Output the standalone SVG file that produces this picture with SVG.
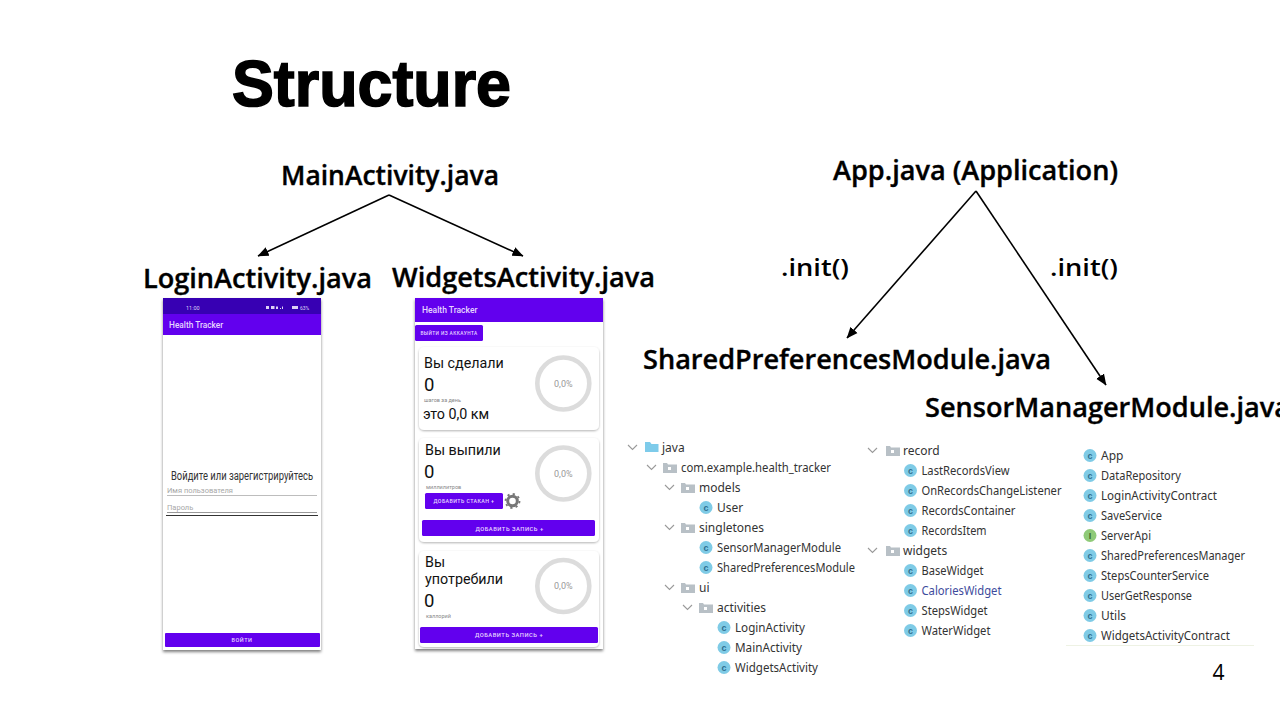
<svg xmlns="http://www.w3.org/2000/svg" width="1280" height="720" viewBox="0 0 1280 720">
<style>
text{font-family:"Noto Sans","Open Sans",sans-serif;fill:#000}
.title{font-family:"Liberation Sans",Arial,sans-serif;font-weight:700;font-size:64px;stroke:#000;stroke-width:1.6px}
.lbl{font-family:"Open Sans",sans-serif;font-weight:600;font-size:26.5px;stroke:#000;stroke-width:.35px}
.init{font-family:"Open Sans",sans-serif;font-weight:600;font-size:24px}
.conn{fill:none;stroke:#000;stroke-width:1.6;marker-end:url(#arr)}
.r{font-family:Roboto,sans-serif}
.t{font-size:12px;fill:#333}
.w{fill:#e6d6ff;font-weight:500;font-family:Roboto,sans-serif}
.purple{fill:#6200ee}
.hint{font-size:7.5px;fill:#a8a8a8;font-family:Roboto,sans-serif}
.big{font-size:14.3px;fill:#111;font-family:Roboto,sans-serif}
.num{font-size:18.5px;fill:#111;font-family:Roboto,sans-serif}
.sm{font-size:5.5px;fill:#888;font-family:Roboto,sans-serif}
.pct{font-size:9px;fill:#999;font-family:Roboto,sans-serif;text-anchor:middle}
.ring{fill:none;stroke:#dcdcdc;stroke-width:4.6}
.card{fill:#fff;filter:url(#sh)}
.chev{fill:none;stroke:#9a9a9a;stroke-width:1.1}
.ci{fill:#7fcbe6}
.cl{font-size:9px;fill:#2f6f8f;font-weight:700;text-anchor:middle;font-family:"Liberation Sans",sans-serif}
.fold{fill:#b8c0c6}
.st{fill:#dcd2f5}
</style>
<defs>
<marker id="arr" viewBox="0 0 10 10" refX="9.5" refY="5" markerWidth="7" markerHeight="7" orient="auto"><path d="M0 0.8L10 5L0 9.2z" fill="#000"/></marker>
<filter id="sh" x="-10%" y="-10%" width="120%" height="125%"><feDropShadow dx="0" dy="1" stdDeviation="1.3" flood-color="#000" flood-opacity=".3"/></filter>
<filter id="sh2" x="-10%" y="-5%" width="120%" height="110%"><feDropShadow dx="0" dy="2" stdDeviation="1.6" flood-color="#000" flood-opacity=".5"/></filter>
<g id="cic"><circle r="6.5" class="ci"/><text class="cl" y="3">c</text></g>
<g id="fd"><path d="M0 0h4l1 1.500h9v8.500h-14z"/><rect x="5" y="4" width="3" height="3" fill="#fff"/></g>
</defs>
<rect width="1280" height="720" fill="#fff"/>
<text class="title" x="232" y="106" textLength="279" lengthAdjust="spacingAndGlyphs">Structure</text>

<g id="connectors">
<path class="conn" d="M389 195L258 256"/>
<path class="conn" d="M389 195L523 256"/>
<path class="conn" d="M976 191L847 338"/>
<path class="conn" d="M976 191L1106 385"/>
</g>

<g id="n-main"><text class="lbl" x="281" y="184.500" textLength="218" lengthAdjust="spacingAndGlyphs">MainActivity.java</text></g>
<g id="n-login"><text class="lbl" x="143" y="287.500" textLength="229" lengthAdjust="spacingAndGlyphs">LoginActivity.java</text></g>
<g id="n-widgets"><text class="lbl" x="392" y="286.500" textLength="263" lengthAdjust="spacingAndGlyphs">WidgetsActivity.java</text></g>
<g id="n-app"><text class="lbl" x="833" y="179.500" textLength="285" lengthAdjust="spacingAndGlyphs">App.java (Application)</text></g>
<g id="n-init1"><text class="init" x="781" y="276" textLength="68" lengthAdjust="spacingAndGlyphs">.init()</text></g>
<g id="n-init2"><text class="init" x="1050" y="276" textLength="68" lengthAdjust="spacingAndGlyphs">.init()</text></g>
<g id="n-shared"><text class="lbl" x="643" y="368.500" textLength="408" lengthAdjust="spacingAndGlyphs">SharedPreferencesModule.java</text></g>
<g id="n-sensor"><text class="lbl" x="925" y="416.500" textLength="365" lengthAdjust="spacingAndGlyphs">SensorManagerModule.java</text></g>

<g id="login-screen">
<rect x="163" y="298" width="158" height="352" fill="#fff" filter="url(#sh2)"/>
<rect x="163" y="298" width="158" height="16" fill="#3700b3"/>
<rect x="163" y="314" width="158" height="21" class="purple"/>
<text class="r st" x="186" y="310" font-size="5.500" style="fill:#dcd2f5">11:00</text>
<path class="st" d="M266 306h3v3h-3zM271 306h3.500v3h-3.500zM276 306.500h2v2.500h-2zM280 308h1v1h-1zM282 306.500h1v2.500h-1zM292 306h6v3h-6z"/>
<text class="r" x="300" y="310" font-size="5" style="fill:#dcd2f5">63%</text>
<text class="w" x="169" y="328" font-size="8.300">Health Tracker</text>
<text class="r t" x="171" y="480" textLength="142" lengthAdjust="spacingAndGlyphs">Войдите или зарегистрируйтесь</text>
<text class="hint" x="167" y="493">Имя пользователя</text>
<rect x="167" y="495" width="150" height="1" fill="#bdbdbd"/>
<text class="hint" x="167" y="510">Пароль</text>
<rect x="167" y="512" width="150" height="1" fill="#999"/>
<rect x="166" y="515" width="152" height="1" fill="#333"/>
<rect x="165" y="633" width="155" height="14" rx="1" class="purple"/>
<text class="w" x="242" y="641.500" font-size="5.500" text-anchor="middle" letter-spacing=".5">ВОЙТИ</text>
</g>

<g id="widgets-screen">
<rect x="415" y="298" width="188" height="351" fill="#fff" filter="url(#sh2)"/>
<rect x="415" y="298" width="188" height="24" class="purple"/>
<text class="w" x="422" y="313" font-size="8.500">Health Tracker</text>
<rect x="415" y="325" width="68" height="16" rx="1.500" class="purple"/>
<text class="w" x="449" y="335" font-size="4.800" text-anchor="middle" letter-spacing=".4">ВЫЙТИ ИЗ АККАУНТА</text>

<rect x="419" y="347" width="180" height="83" rx="5" class="card"/>
<text class="big" x="424" y="368">Вы сделали</text>
<text class="num" x="424" y="391">0</text>
<text class="sm" x="424" y="402">шагов за день</text>
<text class="big" x="423" y="419">это 0,0 км</text>
<circle class="ring" cx="563.300" cy="383.500" r="26"/>
<text class="pct" x="563.300" y="386.500">0,0%</text>

<rect x="419" y="438" width="180" height="104" rx="5" class="card"/>
<text class="big" x="425" y="455">Вы выпили</text>
<text class="num" x="424" y="478">0</text>
<text class="sm" x="426" y="489">миллилитров</text>
<rect x="425" y="493" width="78" height="16" rx="1.500" class="purple"/>
<text class="w" x="464" y="503" font-size="5.300" text-anchor="middle" letter-spacing=".4">ДОБАВИТЬ СТАКАН +</text>
<g id="gear" transform="translate(512.500 501)"><circle r="4.800" fill="none" stroke="#777" stroke-width="3"/><circle r="7" fill="none" stroke="#777" stroke-width="1.800" stroke-dasharray="2.200 3.300"/></g>
<rect x="422" y="520" width="173" height="16" rx="1.500" class="purple"/>
<text class="w" x="509.500" y="530.500" font-size="5.800" text-anchor="middle" letter-spacing=".5">ДОБАВИТЬ ЗАПИСЬ +</text>
<circle class="ring" cx="563.300" cy="473.500" r="26"/>
<text class="pct" x="563.300" y="476.500">0,0%</text>

<rect x="419" y="551" width="180" height="96" rx="5" class="card"/>
<text class="big" x="425" y="567">Вы</text>
<text class="big" x="425" y="584">употребили</text>
<text class="num" x="424" y="607">0</text>
<text class="sm" x="426" y="618">каллорий</text>
<rect x="420" y="627" width="178" height="16" rx="1.500" class="purple"/>
<text class="w" x="509" y="637" font-size="5.800" text-anchor="middle" letter-spacing=".5">ДОБАВИТЬ ЗАПИСЬ +</text>
<circle class="ring" cx="563.300" cy="586" r="26"/>
<text class="pct" x="563.300" y="589">0,0%</text>
</g>

<g id="tree-1">
<path class="chev" d="M628 445l4.500 4.500 4.500-4.500M647 465l4.500 4.500 4.500-4.500M665 485l4.500 4.500 4.500-4.500M665 525l4.500 4.500 4.500-4.500M665 585l4.500 4.500 4.500-4.500M683 605l4.500 4.500 4.500-4.500"/>
<path d="M645 442h5l1.500 2h7v8h-13.500z" fill="#7ecbea"/>
<use href="#fd" x="663" y="463" class="fold"/>
<use href="#fd" x="681" y="483" class="fold"/>
<use href="#fd" x="681" y="523" class="fold"/>
<use href="#fd" x="681" y="583" class="fold"/>
<use href="#fd" x="699" y="603" class="fold"/>
<text class="t" x="662" y="452">java</text>
<text class="t" x="681" y="472" textLength="150" lengthAdjust="spacingAndGlyphs">com.example.health_tracker</text>
<text class="t" x="699" y="492">models</text>
<use href="#cic" x="706" y="507.500"/><text class="t" x="717" y="512">User</text>
<text class="t" x="699" y="532">singletones</text>
<use href="#cic" x="706" y="547.500"/><text class="t" x="717" y="552" textLength="124" lengthAdjust="spacingAndGlyphs">SensorManagerModule</text>
<use href="#cic" x="706" y="567.500"/><text class="t" x="717" y="572" textLength="138" lengthAdjust="spacingAndGlyphs">SharedPreferencesModule</text>
<text class="t" x="699" y="592">ui</text>
<text class="t" x="717" y="612">activities</text>
<use href="#cic" x="724" y="627.500"/><text class="t" x="735" y="632" textLength="70" lengthAdjust="spacingAndGlyphs">LoginActivity</text>
<use href="#cic" x="724" y="647.500"/><text class="t" x="735" y="652" textLength="67" lengthAdjust="spacingAndGlyphs">MainActivity</text>
<use href="#cic" x="724" y="667.500"/><text class="t" x="735" y="672" textLength="83" lengthAdjust="spacingAndGlyphs">WidgetsActivity</text>
</g>

<g id="tree-2">
<path class="chev" d="M868 448l4.500 4.500 4.500-4.500M868 548l4.500 4.500 4.500-4.500"/>
<use href="#fd" x="886" y="446" class="fold"/>
<use href="#fd" x="886" y="546" class="fold"/>
<text class="t" x="903" y="455">record</text>
<use href="#cic" x="910.500" y="470.500"/><text class="t" x="921.500" y="475" textLength="88" lengthAdjust="spacingAndGlyphs">LastRecordsView</text>
<use href="#cic" x="910.500" y="490.500"/><text class="t" x="921.500" y="495" textLength="140" lengthAdjust="spacingAndGlyphs">OnRecordsChangeListener</text>
<use href="#cic" x="910.500" y="510.500"/><text class="t" x="921.500" y="515" textLength="94" lengthAdjust="spacingAndGlyphs">RecordsContainer</text>
<use href="#cic" x="910.500" y="530.500"/><text class="t" x="921.500" y="535" textLength="65" lengthAdjust="spacingAndGlyphs">RecordsItem</text>
<text class="t" x="903" y="555">widgets</text>
<use href="#cic" x="910.500" y="570.500"/><text class="t" x="921.500" y="575" textLength="62" lengthAdjust="spacingAndGlyphs">BaseWidget</text>
<use href="#cic" x="910.500" y="590.500"/><text class="t" x="921.500" y="595" textLength="80" lengthAdjust="spacingAndGlyphs" style="fill:#3d4b9c">CaloriesWidget</text>
<use href="#cic" x="910.500" y="610.500"/><text class="t" x="921.500" y="615" textLength="66" lengthAdjust="spacingAndGlyphs">StepsWidget</text>
<use href="#cic" x="910.500" y="630.500"/><text class="t" x="921.500" y="635" textLength="69" lengthAdjust="spacingAndGlyphs">WaterWidget</text>
</g>

<g id="tree-3">
<use href="#cic" x="1090" y="455.500"/><text class="t" x="1101" y="460">App</text>
<use href="#cic" x="1090" y="475.500"/><text class="t" x="1101" y="480" textLength="80" lengthAdjust="spacingAndGlyphs">DataRepository</text>
<use href="#cic" x="1090" y="495.500"/><text class="t" x="1101" y="500" textLength="116" lengthAdjust="spacingAndGlyphs">LoginActivityContract</text>
<use href="#cic" x="1090" y="515.500"/><text class="t" x="1101" y="520" textLength="61" lengthAdjust="spacingAndGlyphs">SaveService</text>
<circle cx="1090" cy="535.500" r="6.500" fill="#8fca78"/><text class="cl" x="1090" y="538.800" style="fill:#3c6a2c">I</text><text class="t" x="1101" y="540" textLength="50" lengthAdjust="spacingAndGlyphs">ServerApi</text>
<use href="#cic" x="1090" y="555.500"/><text class="t" x="1101" y="560" textLength="144" lengthAdjust="spacingAndGlyphs">SharedPreferencesManager</text>
<use href="#cic" x="1090" y="575.500"/><text class="t" x="1101" y="580" textLength="108" lengthAdjust="spacingAndGlyphs">StepsCounterService</text>
<use href="#cic" x="1090" y="595.500"/><text class="t" x="1101" y="600" textLength="91" lengthAdjust="spacingAndGlyphs">UserGetResponse</text>
<use href="#cic" x="1090" y="615.500"/><text class="t" x="1101" y="620">Utils</text>
<use href="#cic" x="1090" y="635.500"/><text class="t" x="1101" y="640" textLength="129" lengthAdjust="spacingAndGlyphs">WidgetsActivityContract</text>
<rect x="1066" y="645" width="188" height="1" fill="#eef2e4"/>
</g>
<text x="1212.500" y="679.500" font-size="21" style="font-family:'Open Sans',sans-serif">4</text>
</svg>
